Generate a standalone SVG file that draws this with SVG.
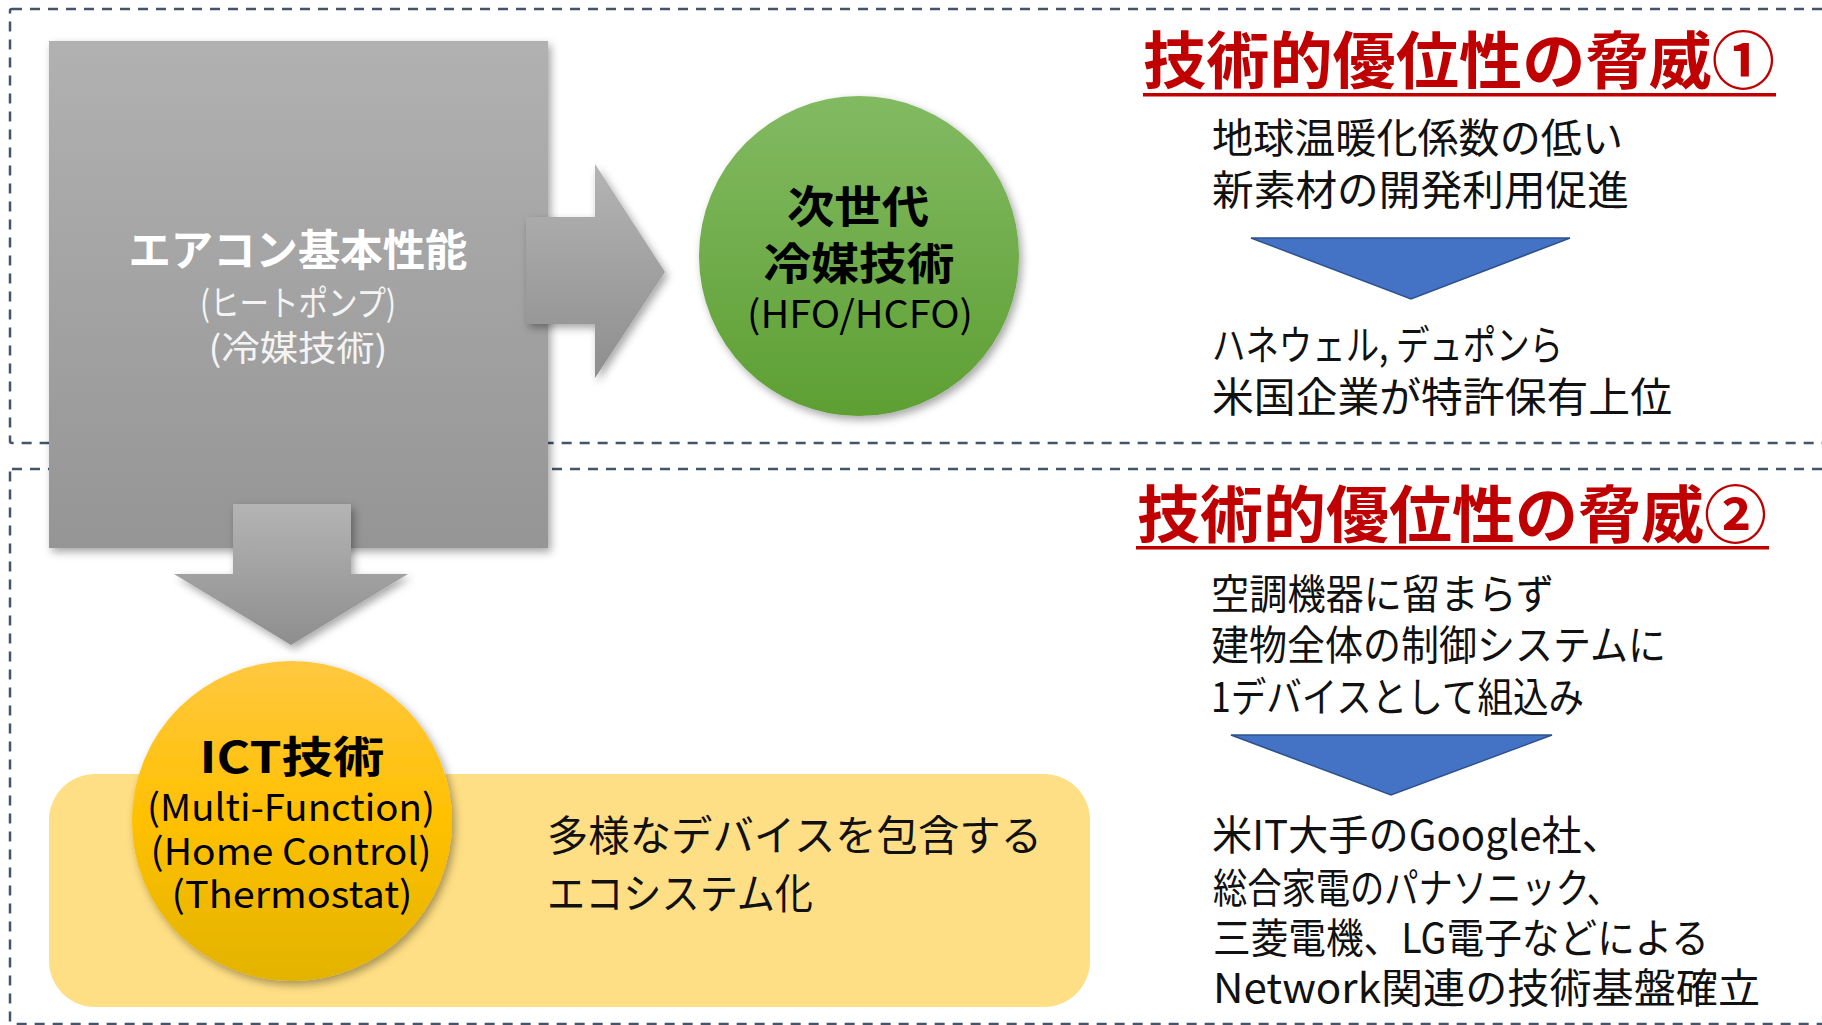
<svg xmlns="http://www.w3.org/2000/svg" width="1822" height="1025" viewBox="0 0 1822 1025">
<style>
.dash{fill:none;stroke:#44546A;stroke-width:2.5;stroke-dasharray:10 8}
.jp{font-family:"Noto Sans CJK JP","Noto Sans",sans-serif}
.body{font-size:41px;fill:#111}
.title{font-size:62px;font-weight:bold;fill:#C00000}
.tri{fill:#4472C4;stroke:#2F528F;stroke-width:1.5}
</style>
<defs>
<linearGradient id="gGray" x1="0" y1="0" x2="0" y2="1"><stop offset="0" stop-color="#b1b1b1"/><stop offset="1" stop-color="#959595"/></linearGradient>
<linearGradient id="gArrow" x1="0" y1="0" x2="0" y2="1"><stop offset="0" stop-color="#b4b4b4"/><stop offset="1" stop-color="#8e8e8e"/></linearGradient>
<linearGradient id="gGreen" x1="0" y1="0" x2="0" y2="1"><stop offset="0" stop-color="#82ba62"/><stop offset="1" stop-color="#5e9f33"/></linearGradient>
<linearGradient id="gYellow" x1="0" y1="0" x2="0" y2="1"><stop offset="0" stop-color="#ffc840"/><stop offset="0.5" stop-color="#ffc000"/><stop offset="1" stop-color="#e2b300"/></linearGradient>
<filter id="sh" x="-20%" y="-20%" width="140%" height="140%"><feDropShadow dx="3" dy="4" stdDeviation="4" flood-color="#000" flood-opacity="0.35"/></filter>
</defs>

<g id="frames">
<rect class="dash" x="10" y="9" width="1830" height="434" rx="2"/>
<rect class="dash" x="10" y="469" width="1830" height="555" rx="2"/>
</g>

<g id="ecosystem">
<rect x="49" y="774" width="1041" height="233" rx="46" fill="#FFDF85"/>
<text class="jp" font-size="42" fill="#111" x="547" y="851" textLength="495" lengthAdjust="spacingAndGlyphs">多様なデバイスを包含する</text>
<text class="jp" font-size="42" fill="#111" x="547" y="909" textLength="266" lengthAdjust="spacingAndGlyphs">エコシステム化</text>
</g>

<g id="aircon">
<rect x="49" y="41" width="499" height="507" fill="url(#gGray)" filter="url(#sh)"/>
<text class="jp" font-size="43" font-weight="bold" fill="#fff" text-anchor="middle" x="298" y="266" textLength="339" lengthAdjust="spacingAndGlyphs">エアコン基本性能</text>
<text class="jp" font-size="35" fill="#f4f4f4" text-anchor="middle" x="298" y="316" textLength="196" lengthAdjust="spacingAndGlyphs">(ヒートポンプ)</text>
<text class="jp" font-size="35" fill="#f4f4f4" text-anchor="middle" x="298" y="361" textLength="179" lengthAdjust="spacingAndGlyphs">(冷媒技術)</text>
</g>

<g id="connectors">
<path d="M526 217 H595 V164 L665 272 L595 378 V324 H526 Z" fill="url(#gArrow)" filter="url(#sh)"/>
<path d="M233 504 H351 V574 H408 L291 645 L174 574 H233 Z" fill="url(#gArrow)" filter="url(#sh)"/>
<path class="tri" d="M1251 238 H1570 L1411 299 Z"/>
<path class="tri" d="M1231 735 H1552 L1391 795 Z"/>
</g>

<g id="refrigerant">
<circle cx="859" cy="256" r="160" fill="url(#gGreen)" filter="url(#sh)"/>
<text class="jp" font-size="44" font-weight="bold" fill="#000" text-anchor="middle" x="858" y="223" textLength="142" lengthAdjust="spacingAndGlyphs">次世代</text>
<text class="jp" font-size="44" font-weight="bold" fill="#000" text-anchor="middle" x="859" y="280" textLength="191" lengthAdjust="spacingAndGlyphs">冷媒技術</text>
<text class="jp" font-size="38" fill="#000" text-anchor="middle" x="860" y="328" textLength="226" lengthAdjust="spacingAndGlyphs">(HFO/HCFO)</text>
</g>

<g id="ict">
<circle cx="292" cy="821" r="160" fill="url(#gYellow)" filter="url(#sh)"/>
<text class="jp" font-size="43" font-weight="bold" fill="#000" text-anchor="middle" x="292" y="773" textLength="185" lengthAdjust="spacingAndGlyphs">ICT技術</text>
<text class="jp" font-size="37" fill="#000" text-anchor="middle" x="291" y="821" textLength="288" lengthAdjust="spacingAndGlyphs">(Multi-Function)</text>
<text class="jp" font-size="37" fill="#000" text-anchor="middle" x="291" y="865" textLength="281" lengthAdjust="spacingAndGlyphs">(Home Control)</text>
<text class="jp" font-size="37" fill="#000" text-anchor="middle" x="292" y="908" textLength="241" lengthAdjust="spacingAndGlyphs">(Thermostat)</text>
</g>

<g id="threat1">
<text class="jp title" x="1143" y="84" textLength="632" lengthAdjust="spacingAndGlyphs">技術的優位性の脅威①</text>
<rect x="1143" y="93" width="633" height="3.5" fill="#C00000"/>
<text class="jp body" x="1212" y="153" textLength="411" lengthAdjust="spacingAndGlyphs">地球温暖化係数の低い</text>
<text class="jp body" x="1212" y="205" textLength="417" lengthAdjust="spacingAndGlyphs">新素材の開発利用促進</text>
<text class="jp body" x="1212" y="360" textLength="351" lengthAdjust="spacingAndGlyphs">ハネウェル, デュポンら</text>
<text class="jp body" x="1212" y="412" textLength="460" lengthAdjust="spacingAndGlyphs">米国企業が特許保有上位</text>
</g>

<g id="threat2">
<text class="jp title" x="1137" y="538" textLength="630" lengthAdjust="spacingAndGlyphs">技術的優位性の脅威②</text>
<rect x="1136" y="546" width="633" height="3.5" fill="#C00000"/>
<text class="jp body" x="1211" y="609" textLength="343" lengthAdjust="spacingAndGlyphs">空調機器に留まらず</text>
<text class="jp body" x="1211" y="660" textLength="455" lengthAdjust="spacingAndGlyphs">建物全体の制御システムに</text>
<text class="jp body" x="1211" y="712" textLength="373" lengthAdjust="spacingAndGlyphs">1デバイスとして組込み</text>
<text class="jp body" x="1212" y="850" textLength="410" lengthAdjust="spacingAndGlyphs">米IT大手のGoogle社、</text>
<text class="jp body" x="1213" y="903" textLength="408" lengthAdjust="spacingAndGlyphs">総合家電のパナソニック、</text>
<text class="jp body" x="1213" y="953" textLength="496" lengthAdjust="spacingAndGlyphs">三菱電機、LG電子などによる</text>
<text class="jp body" x="1213" y="1003" textLength="547" lengthAdjust="spacingAndGlyphs">Network関連の技術基盤確立</text>
</g>
</svg>
